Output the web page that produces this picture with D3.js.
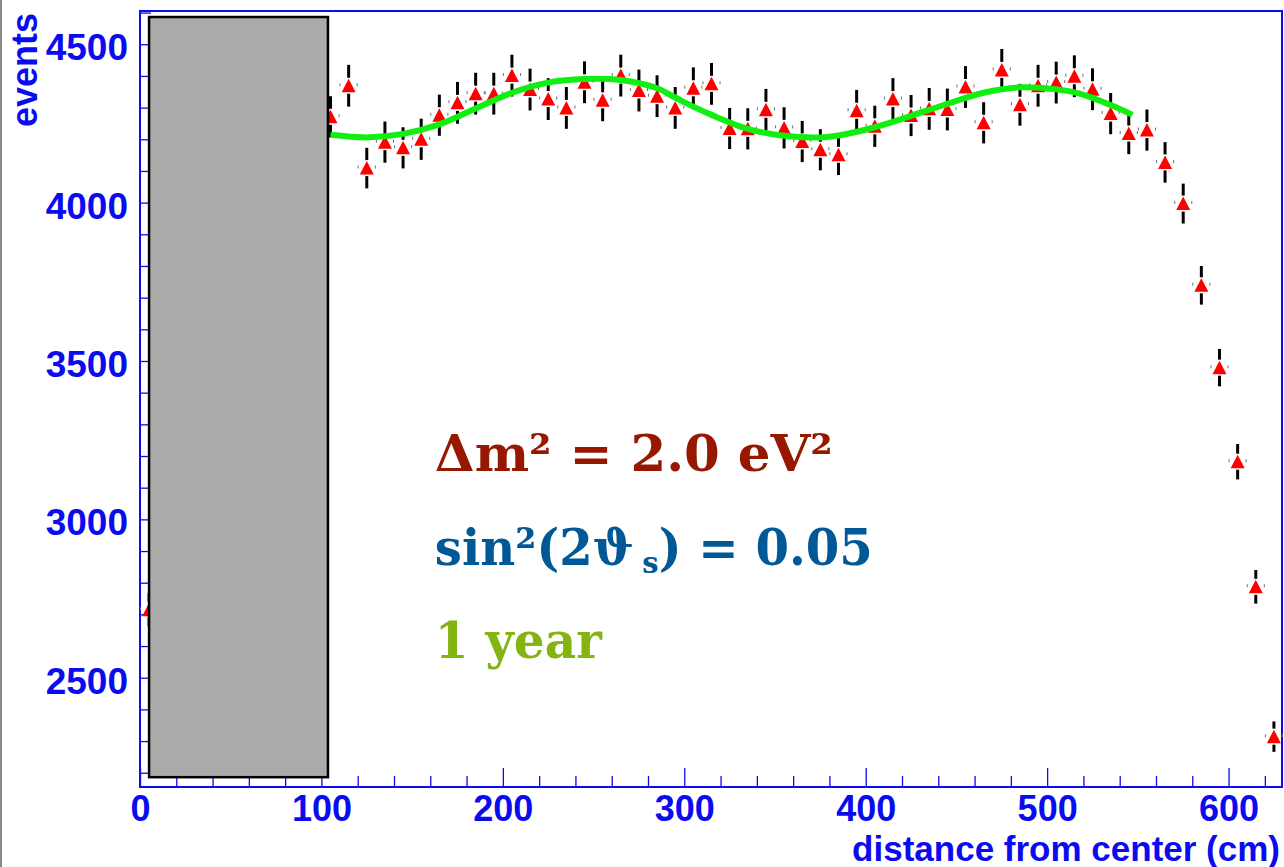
<!DOCTYPE html>
<meta charset="utf-8" />
<script src="https://d3js.org/d3.v7.min.js"></script>
<style>
  html, body { margin: 0; padding: 0; background: #fff; overflow: hidden; }
  .tick text { font-family: "Liberation Sans", Arial, sans-serif; font-weight: bold; }
</style>
<body>
<div id="chart"></div>
<script>
  // bin centres (cm) and counts
  var binCenters = [5, 105, 115, 125, 135, 145, 155, 165, 175, 185, 195, 205, 215, 225, 235,
    245, 255, 265, 275, 285, 295, 305, 315, 325, 335, 345, 355, 365, 375, 385, 395, 405, 415,
    425, 435, 445, 455, 465, 475, 485, 495, 505, 515, 525, 535, 545, 555, 565, 575, 585, 595,
    605, 615, 625];
  var events = [2715, 4271, 4369, 4109, 4191, 4173, 4200, 4276, 4315, 4344, 4344, 4401, 4357,
    4327, 4299, 4380, 4323, 4401, 4354, 4336, 4299, 4361, 4375, 4234, 4233, 4293, 4236, 4193,
    4167, 4151, 4290, 4241, 4327, 4275, 4296, 4294, 4365, 4252, 4419, 4309, 4369, 4379, 4399,
    4358, 4281, 4218, 4229, 4127, 3997, 3739, 3479, 3182, 2787, 2314];
  var errors = [52, 65, 66, 64, 65, 65, 65, 65, 66, 66, 66, 66, 66, 66, 66, 66, 66, 66, 66,
    66, 66, 66, 66, 65, 65, 66, 65, 65, 65, 64, 66, 65, 66, 65, 66, 66, 66, 65, 66, 66, 66,
    66, 66, 66, 65, 65, 65, 64, 63, 61, 59, 56, 53, 48];
  var binHalfWidth = 5;

  // oscillation fit curve
  var fitX = [105, 125, 145, 165, 185, 205, 225, 245, 265, 285, 295, 305, 315, 335, 355, 375,
    385, 405, 425, 445, 465, 485, 505, 518, 535, 547];
  var fitY = [4214, 4206, 4217, 4247, 4297, 4347, 4379, 4390, 4387, 4361, 4332, 4303, 4277,
    4233, 4211, 4206, 4212, 4238, 4274, 4312, 4347, 4364, 4358, 4344, 4308, 4277];

  // shaded (excluded) region
  var boxX = [5, 103.6];
  var boxY = [2186, 4586];

  var xMajor = [0, 100, 200, 300, 400, 500, 600];
  var yMajor = [2500, 3000, 3500, 4000, 4500];

  var width = 1284, height = 867;
  var padL = 140, padR = 1283, padT = 11, padB = 787;
  var blue = "#0b0bf0";

  var svg = d3.select("#chart").append("svg")
    .attr("width", width)
    .attr("height", height);

  var x = d3.scaleLinear().domain([0, 630]).range([padL, padR]);
  var y = d3.scaleLinear().domain([2155, 4605]).range([padB, padT]);

  // canvas edge
  svg.append("line")
    .attr("x1", 1).attr("x2", 1).attr("y1", 0).attr("y2", height)
    .attr("stroke", "#888").attr("stroke-width", 2);

  // minor ticks
  var xMinor = d3.range(0, 631, 20).filter(function(v) { return v % 100 != 0; });
  var yMinor = d3.range(2200, 4601, 100).filter(function(v) { return v % 500 != 0; });

  svg.append("g")
    .attr("transform", "translate(0," + padB + ")")
    .call(d3.axisBottom(x).tickValues(xMinor).tickSizeInner(-11).tickSizeOuter(0).tickFormat(""))
    .call(function(g) { g.select(".domain").remove(); })
    .selectAll("line").attr("stroke", blue).attr("stroke-width", 1.3);

  svg.append("g")
    .attr("transform", "translate(" + padL + ",0)")
    .call(d3.axisLeft(y).tickValues(yMinor).tickSizeInner(-11).tickSizeOuter(0).tickFormat(""))
    .call(function(g) { g.select(".domain").remove(); })
    .selectAll("line").attr("stroke", blue).attr("stroke-width", 1.3);

  // major ticks + labels
  var xAxis = svg.append("g")
    .attr("transform", "translate(0," + padB + ")")
    .call(d3.axisBottom(x).tickValues(xMajor).tickFormat(d3.format("d"))
      .tickSizeInner(-19).tickSizeOuter(0).tickPadding(8));
  xAxis.selectAll("line").attr("stroke", blue).attr("stroke-width", 1.3);
  xAxis.selectAll("text").attr("fill", blue).style("font-size", "36px");
  xAxis.select(".domain").remove();

  var yAxis = svg.append("g")
    .attr("transform", "translate(" + padL + ",0)")
    .call(d3.axisLeft(y).tickValues(yMajor).tickFormat(d3.format("d"))
      .tickSizeInner(-22).tickSizeOuter(0).tickPadding(12));
  yAxis.selectAll("line").attr("stroke", blue).attr("stroke-width", 1.3);
  yAxis.selectAll("text").attr("fill", blue).attr("dy", "0.42em").style("font-size", "37px");
  yAxis.select(".domain").remove();

  // frame
  svg.append("rect")
    .attr("x", padL).attr("y", padT)
    .attr("width", padR - padL - 1).attr("height", padB - padT)
    .attr("fill", "none").attr("stroke", blue).attr("stroke-width", 2);

  // axis titles
  svg.append("text")
    .attr("transform", "translate(37,13) rotate(-90)")
    .attr("text-anchor", "end")
    .attr("fill", blue)
    .style("font-family", "'Liberation Sans', Arial, sans-serif")
    .style("font-weight", "bold")
    .style("font-size", "36px")
    .text("events");

  svg.append("text")
    .attr("x", 1280).attr("y", 861)
    .attr("text-anchor", "end")
    .attr("fill", blue)
    .style("font-family", "'Liberation Sans', Arial, sans-serif")
    .style("font-weight", "bold")
    .style("font-size", "35px")
    .text("distance from center (cm)");

  // data points
  var pts = binCenters.map(function(c, i) {
    return { x: c, v: events[i], e: errors[i] };
  });
  var gap = 8;
  var node = svg.append("g").selectAll("g.pt").data(pts).enter().append("g")
    .attr("class", "pt")
    .attr("transform", function(d) { return "translate(" + x(d.x) + "," + y(d.v) + ")"; });

  node.append("line")
    .attr("x1", 0).attr("x2", 0)
    .attr("y1", function(d) { return y(d.v + d.e) - y(d.v); })
    .attr("y2", -gap)
    .attr("stroke", "#000").attr("stroke-width", 3);
  node.append("line")
    .attr("x1", 0).attr("x2", 0)
    .attr("y1", gap)
    .attr("y2", function(d) { return y(d.v - d.e) - y(d.v); })
    .attr("stroke", "#000").attr("stroke-width", 3);
  node.append("line")
    .attr("x1", function(d) { return x(d.x - binHalfWidth) - x(d.x); })
    .attr("x2", -gap)
    .attr("y1", -1).attr("y2", -1)
    .attr("stroke", "#777").attr("stroke-width", 3);
  node.append("line")
    .attr("x1", gap)
    .attr("x2", function(d) { return x(d.x + binHalfWidth) - x(d.x); })
    .attr("y1", -1).attr("y2", -1)
    .attr("stroke", "#777").attr("stroke-width", 3);
  node.append("path")
    .attr("d", "M0,-7L7,6.5L-7,6.5Z")
    .attr("fill", "#ff0000");

  // fit curve
  var line = d3.line()
    .x(function(d, i) { return x(fitX[i]); })
    .y(function(d) { return y(d); })
    .curve(d3.curveCatmullRom);
  svg.append("path")
    .attr("d", line(fitY))
    .attr("fill", "none")
    .attr("stroke", "#12ee12")
    .attr("stroke-width", 6);

  // excluded region box
  svg.append("rect")
    .attr("x", x(boxX[0])).attr("y", y(boxY[1]))
    .attr("width", x(boxX[1]) - x(boxX[0]))
    .attr("height", y(boxY[0]) - y(boxY[1]))
    .attr("fill", "#aaaaaa")
    .attr("stroke", "#000")
    .attr("stroke-width", 2.5);

  // annotation
  var serif = "'DejaVu Serif', 'Liberation Serif', serif";
  svg.append("text")
    .attr("x", x(162.5)).attr("y", y(3152))
    .attr("fill", "#961800")
    .style("font-family", serif).style("font-weight", "bold").style("font-size", "50px")
    .attr("textLength", 398).attr("lengthAdjust", "spacingAndGlyphs")
    .text("\u0394m\u00b2 = 2.0 eV\u00b2");

  var t2 = svg.append("text")
    .attr("x", x(162.5)).attr("y", y(2855))
    .attr("fill", "#005896")
    .style("font-family", serif).style("font-weight", "bold").style("font-size", "50px")
    .attr("textLength", 438).attr("lengthAdjust", "spacingAndGlyphs");
  t2.append("tspan").text("sin\u00b2(2\u03d1");
  t2.append("tspan").attr("dx", 9).attr("dy", 8).style("font-size", "30px").text("s");
  t2.append("tspan").attr("dy", -8).text(") = 0.05");

  svg.append("text")
    .attr("x", x(162.5)).attr("y", y(2562))
    .attr("fill", "#84b412")
    .style("font-family", serif).style("font-weight", "bold").style("font-size", "50px")
    .attr("textLength", 167).attr("lengthAdjust", "spacingAndGlyphs")
    .text("1 year");
</script>
</body>
